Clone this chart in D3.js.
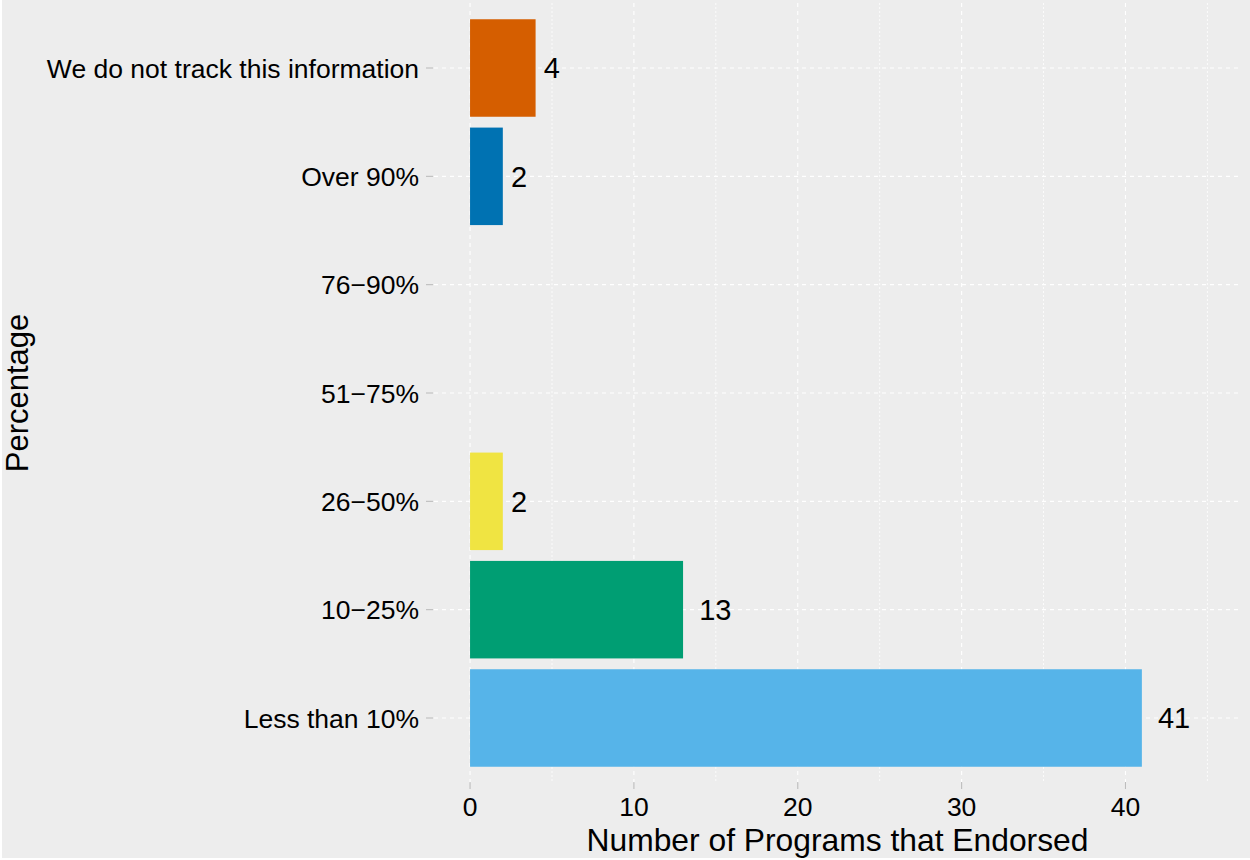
<!DOCTYPE html>
<html>
<head>
<meta charset="utf-8">
<script src="https://cdn.jsdelivr.net/npm/d3@7"></script>
<style>
  html, body { margin: 0; padding: 0; background: #ffffff; }
  svg { display: block; }
  text { font-family: "Liberation Sans", Arial, Helvetica, sans-serif; }
</style>
</head>
<body>
<svg id="chart" width="1250" height="860"></svg>
<script>
// ---- Data ----
const categories = ["Less than 10%", "10\u221225%", "26\u221250%", "51\u221275%", "76\u221290%", "Over 90%", "We do not track this information"];
const values = [41, 13, 2, 0, 0, 2, 4];
const barColors = ["#56B4E9", "#009E73", "#F0E442", "#CC79A7", "#E69F00", "#0072B2", "#D55E00"];
const xTicks = [0, 10, 20, 30, 40];
const xMinorTicks = [5, 15, 25, 35, 45];
const xTitle = "Number of Programs that Endorsed";
const yTitle = "Percentage";

const data = categories.map((c, i) => ({ cat: c, value: values[i], color: barColors[i] }));

// ---- Layout ----
const svg = d3.select("#chart");
const W = 1250, H = 860;
const panel = { left: 434, right: 1241, top: 3, bottom: 783 };

svg.append("rect").attr("x", 2).attr("y", 0).attr("width", W - 2).attr("height", H - 2).attr("fill", "#EDEDED");

const x = d3.scaleLinear().domain([-2.2, 47.05]).range([panel.left, panel.right]);
// discrete axis with ggplot-like expansion (0.6 units each side)
const y = d3.scalePoint().domain(categories).range([panel.bottom, panel.top]).padding(0.6);
const step = y.step();
const yCenter = c => y(c);
const barH = step * 0.9;

const g = svg.append("g");

// minor vertical grid
g.selectAll(".minor").data(xMinorTicks).enter().append("line")
  .attr("x1", d => x(d)).attr("x2", d => x(d))
  .attr("y1", panel.top).attr("y2", panel.bottom)
  .attr("stroke", "#ffffff").attr("stroke-width", 0.8).attr("stroke-dasharray", "2,2");

// major vertical grid
g.selectAll(".majorx").data(xTicks).enter().append("line")
  .attr("x1", d => x(d)).attr("x2", d => x(d))
  .attr("y1", panel.top).attr("y2", panel.bottom)
  .attr("stroke", "#ffffff").attr("stroke-width", 1.1).attr("stroke-dasharray", "4,4");

// major horizontal grid
g.selectAll(".majory").data(categories).enter().append("line")
  .attr("x1", panel.left).attr("x2", panel.right)
  .attr("y1", d => yCenter(d)).attr("y2", d => yCenter(d))
  .attr("stroke", "#ffffff").attr("stroke-width", 1.1).attr("stroke-dasharray", "4,4");

// bars
g.selectAll(".bar").data(data.filter(d => d.value > 0)).enter().append("rect")
  .attr("x", x(0))
  .attr("y", d => yCenter(d.cat) - barH / 2)
  .attr("width", d => x(d.value) - x(0))
  .attr("height", barH)
  .attr("fill", d => d.color);

// value labels (hjust = -0.5 style)
g.selectAll(".vlabel").data(data.filter(d => d.value > 0)).enter().append("text")
  .attr("y", d => yCenter(d.cat))
  .attr("dy", "0.36em")
  .attr("font-size", 29)
  .attr("fill", "#000")
  .text(d => d.value)
  .each(function(d) {
    const w = this.getComputedTextLength();
    d3.select(this).attr("x", x(d.value) + 0.5 * w);
  });

// y axis ticks + labels
const yAxis = svg.append("g");
categories.forEach(c => {
  yAxis.append("line").attr("x1", panel.left - 8).attr("x2", panel.left - 1)
    .attr("y1", yCenter(c)).attr("y2", yCenter(c))
    .attr("stroke", "#BDBDBD").attr("stroke-width", 1.1);
  yAxis.append("text").attr("x", panel.left - 15).attr("y", yCenter(c)).attr("dy", "0.36em")
    .attr("text-anchor", "end").attr("font-size", 26.5).attr("fill", "#000").text(c);
});

// x axis ticks + labels
const xAxis = svg.append("g");
xTicks.forEach(t => {
  xAxis.append("line").attr("x1", x(t)).attr("x2", x(t))
    .attr("y1", panel.bottom - 1).attr("y2", panel.bottom + 6)
    .attr("stroke", "#BDBDBD").attr("stroke-width", 1.1);
  xAxis.append("text").attr("x", x(t)).attr("y", panel.bottom + 33)
    .attr("text-anchor", "middle").attr("font-size", 26.5).attr("fill", "#000").text(t);
});

// axis titles
svg.append("text").attr("x", (panel.left + panel.right) / 2).attr("y", 851)
  .attr("text-anchor", "middle").attr("font-size", 31.8).attr("fill", "#000").text(xTitle);
svg.append("text").attr("transform", `translate(28,${(panel.top + panel.bottom) / 2}) rotate(-90)`)
  .attr("text-anchor", "middle").attr("font-size", 31).attr("fill", "#000").text(yTitle);
</script>
</body>
</html>
